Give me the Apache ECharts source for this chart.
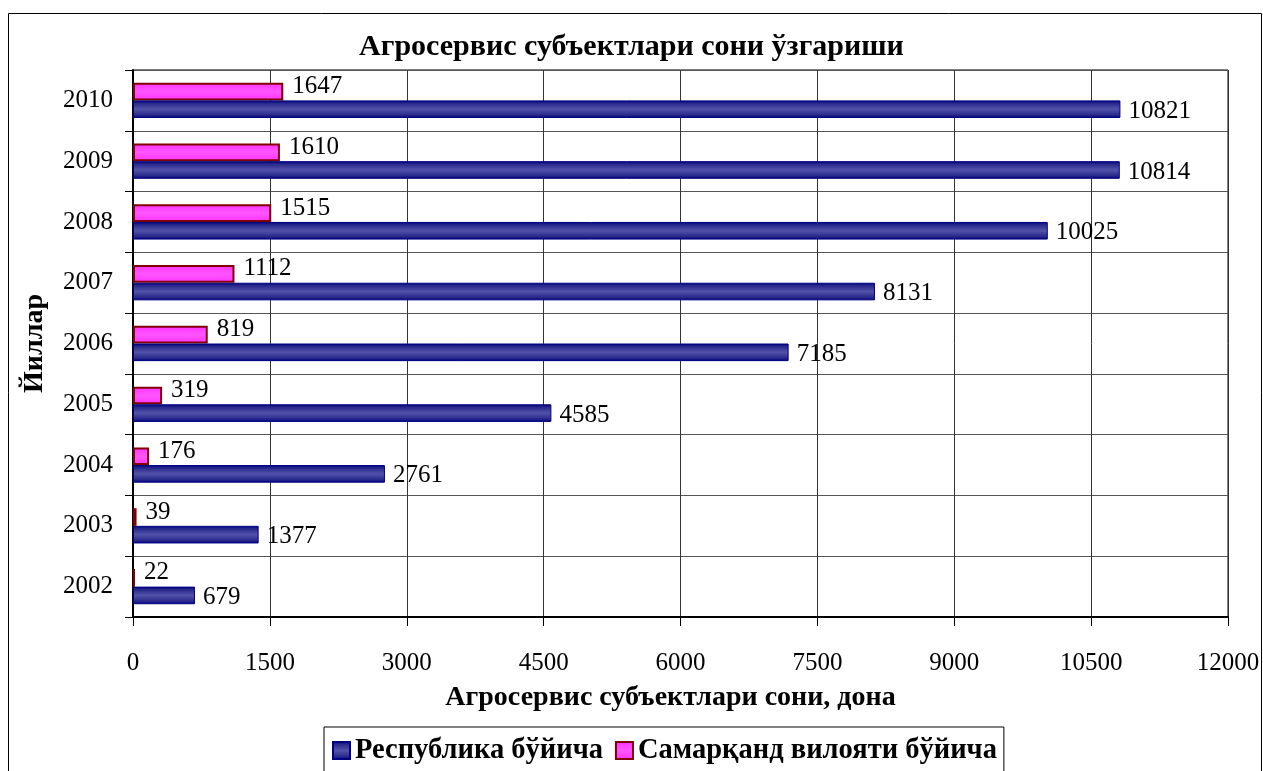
<!DOCTYPE html>
<html>
<head>
<meta charset="utf-8">
<script src="https://cdn.jsdelivr.net/npm/echarts@6/dist/echarts.min.js"></script>
<style>
  html, body { margin: 0; padding: 0; background: #fff; }
  #chart { width: 1263px; height: 771px; }
</style>
</head>
<body>
<div id="chart"></div>
<script>
// йиллар (категориялар)
const years = ['2002', '2003', '2004', '2005', '2006', '2007', '2008', '2009', '2010'];
// Республика бўйича
const republic = [679, 1377, 2761, 4585, 7185, 8131, 10025, 10814, 10821];
// Самарқанд вилояти бўйича
const samarkand = [22, 39, 176, 319, 819, 1112, 1515, 1610, 1647];
const seriesNames = ['Республика бўйича', 'Самарқанд вилояти бўйича'];

const serif = '"Liberation Serif", "Times New Roman", serif';

const chart = echarts.init(document.getElementById('chart'));

const blueFill = new echarts.graphic.LinearGradient(0, 0, 0, 1, [
    { offset: 0, color: '#000080' },
    { offset: 0.18, color: '#2a2a8c' },
    { offset: 0.5, color: '#5252aa' },
    { offset: 0.82, color: '#2a2a8c' },
    { offset: 1, color: '#000080' }
]);
const pinkFill = new echarts.graphic.LinearGradient(0, 0, 0, 1, [
    { offset: 0, color: '#ff33ff' },
    { offset: 0.5, color: '#ff55ff' },
    { offset: 1, color: '#ff33ff' }
]);

const labelStyle = { show: true, position: 'right', fontFamily: serif, fontSize: 25, color: '#000' };

const option = {
    animation: false,
    textStyle: { fontFamily: serif, color: '#000' },
    // ташқи рамка
    graphic: [{
        type: 'rect',
        shape: { x: 8.5, y: 13.5, width: 1253, height: 780 },
        style: { fill: 'none', stroke: '#000', lineWidth: 1 },
        silent: true
    }],
    title: {
        text: 'Агросервис субъектлари сони ўзгариши',
        left: 'center',
        top: 27,
        textStyle: { fontFamily: serif, fontSize: 30, fontWeight: 'bold', color: '#000' }
    },
    legend: {
        data: seriesNames,
        left: 324,
        top: 727,
        padding: [9, 7, 30, 8],
        itemGap: 12,
        itemWidth: 17,
        itemHeight: 17,
        borderColor: '#000',
        borderWidth: 1,
        icon: 'rect',
        textStyle: { fontFamily: serif, fontSize: 28.5, fontWeight: 'bold', color: '#000' }
    },
    grid: {
        left: 133,
        right: 35,
        top: 70,
        bottom: 154,
        show: true,
        borderColor: '#000',
        borderWidth: 1
    },
    xAxis: {
        type: 'value',
        min: 0,
        max: 12000,
        interval: 1500,
        name: 'Агросервис субъектлари сони, дона',
        nameLocation: 'middle',
        nameGap: 67,
        nameTextStyle: { fontFamily: serif, fontSize: 28, fontWeight: 'bold', color: '#000', padding: [0, 20, 0, 0] },
        axisLine: { show: true, lineStyle: { color: '#000', width: 2 } },
        axisTick: { show: true, length: 9, lineStyle: { color: '#000' } },
        axisLabel: { fontFamily: serif, fontSize: 25, color: '#000', margin: 34, formatter: v => String(v) },
        splitLine: { show: true, lineStyle: { color: '#333', width: 1 } }
    },
    yAxis: {
        type: 'category',
        data: years,
        name: 'Йиллар',
        nameLocation: 'middle',
        nameGap: 84,
        nameTextStyle: { fontFamily: serif, fontSize: 28, fontWeight: 'bold', color: '#000' },
        axisLine: { show: true, lineStyle: { color: '#000', width: 2 } },
        axisTick: { show: true, length: 8, lineStyle: { color: '#000' } },
        axisLabel: { fontFamily: serif, fontSize: 25, color: '#000', margin: 20 },
        splitLine: { show: true, lineStyle: { color: '#555', width: 1 } }
    },
    // Самарқанд устида, Республика пастда
    series: [
        {
            name: seriesNames[1],
            type: 'bar',
            data: samarkand,
            barGap: '0%',
            barCategoryGap: '42%',
            itemStyle: { color: pinkFill, borderColor: '#800000', borderWidth: 2 },
            label: Object.assign({}, labelStyle, { distance: 9, offset: [0, -5] })
        },
        {
            name: seriesNames[0],
            type: 'bar',
            data: republic,
            barGap: '0%',
            barCategoryGap: '42%',
            itemStyle: { color: blueFill, borderColor: '#000080', borderWidth: 1 },
            label: Object.assign({}, labelStyle, { distance: 8, offset: [0, 2] })
        }
    ]
};

chart.setOption(option);
</script>
</body>
</html>
